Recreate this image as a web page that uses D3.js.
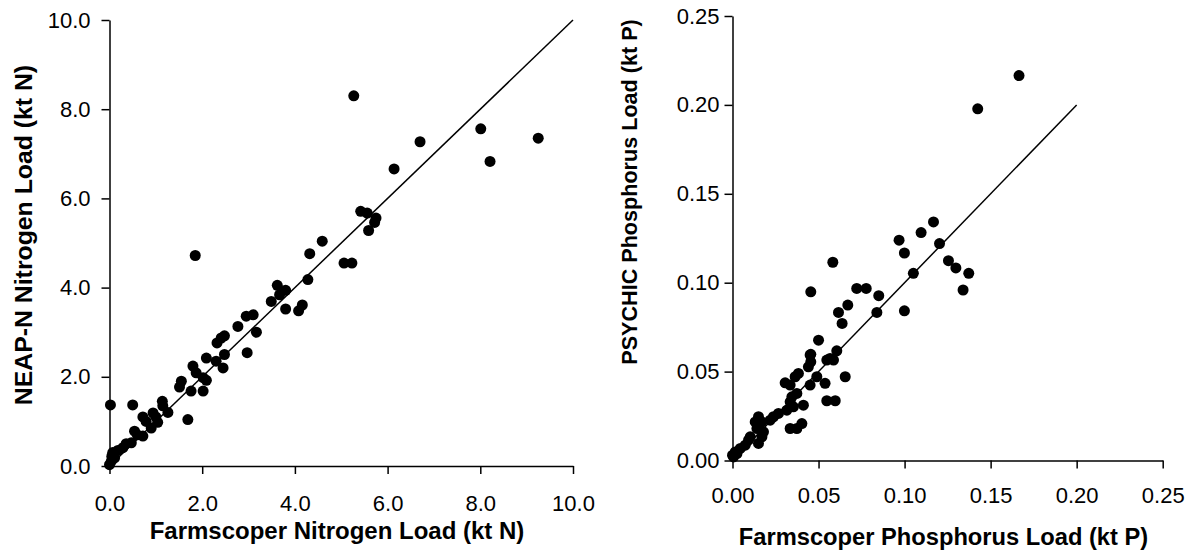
<!DOCTYPE html>
<html>
<head>
<meta charset="utf-8">
<script src="https://cdn.jsdelivr.net/npm/d3@7"></script>
<style>
  body { margin: 0; background: #fff; }
  text { font-family: "Liberation Sans", Arial, sans-serif; fill: #000; }
</style>
</head>
<body>
<div id="my_dataviz"></div>
<script>
// ---------------------------//
//       DATA                 //
// ---------------------------//

// nitrogen panel (kt N)
var nitroFarmscoper = [0.02, 0.50, 1.85, 5.27, 8.01, 9.25, 8.21, 6.70, 6.14, 5.42, 5.56, 5.75, 5.72, 5.59,
  4.59, 4.32, 4.28, 5.06, 5.23, 3.80, 3.67, 3.62, 3.80, 4.08, 4.16, 3.49, 2.95, 3.10, 2.77, 3.17,
  2.48, 2.41, 2.32, 2.97, 2.48, 2.09, 2.30, 2.45, 1.80, 1.87, 2.02, 2.09, 1.55, 1.51, 1.76, 2.02,
  1.14, 1.15, 1.26, 0.72, 0.94, 0.79, 1.04, 0.90, 1.69, 0.54, 0.72, 0.47, 0.36, 0.29, 0.18, 0.07,
  0.11, 0.04, 0.00, 0.60, 1.00, 0.05];
var nitroNeap = [1.37, 1.37, 4.72, 8.30, 7.56, 7.35, 6.83, 7.27, 6.66, 5.71, 5.67, 5.56, 5.46, 5.28,
  5.04, 4.76, 4.18, 4.55, 4.55, 3.94, 3.84, 4.05, 3.52, 3.48, 3.61, 3.69, 3.36, 3.39, 3.13, 3.00,
  2.92, 2.87, 2.76, 2.54, 2.50, 2.42, 2.35, 2.20, 2.24, 2.09, 1.98, 1.92, 1.90, 1.77, 1.68, 1.68,
  1.45, 1.35, 1.20, 1.10, 1.19, 1.00, 0.98, 0.85, 1.04, 0.78, 0.67, 0.52, 0.50, 0.41, 0.35, 0.30,
  0.18, 0.11, 0.03, 0.70, 1.10, 0.22];

// phosphorus panel (kt P)
var phosFarmscoper = [0.1665, 0.1425, 0.1168, 0.1096, 0.0968, 0.0999, 0.1203, 0.1255, 0.1298, 0.1373,
  0.1340, 0.1051, 0.0583, 0.0455, 0.0722, 0.0777, 0.0850, 0.0670, 0.0616, 0.0637, 0.0839, 0.0999,
  0.0500, 0.0455, 0.0606, 0.0567, 0.0451, 0.0455, 0.0587, 0.0548, 0.0655, 0.0538, 0.0548, 0.0597,
  0.0451, 0.0490, 0.0441, 0.0383, 0.0364, 0.0306, 0.0335, 0.0374, 0.0345, 0.0412, 0.0354, 0.0335,
  0.0316, 0.0267, 0.0238, 0.0219, 0.0403, 0.0335, 0.0374, 0.0151, 0.0132, 0.0171, 0.0142, 0.0180,
  0.0171, 0.0151, 0.0103, 0.0093, 0.0074, 0.0045, 0.0016, 0.0000, 0.0006, 0.0026];
var phosPsychic = [0.2165, 0.1978, 0.1342, 0.1282, 0.1239, 0.1167, 0.1220, 0.1124, 0.1083, 0.1053,
  0.0959, 0.1053, 0.1115, 0.0949, 0.0968, 0.0968, 0.0927, 0.0874, 0.0833, 0.0771, 0.0833, 0.0842,
  0.0677, 0.0597, 0.0617, 0.0574, 0.0593, 0.0555, 0.0565, 0.0565, 0.0471, 0.0434, 0.0336, 0.0336,
  0.0424, 0.0471, 0.0527, 0.0490, 0.0471, 0.0437, 0.0424, 0.0377, 0.0358, 0.0311, 0.0302, 0.0330,
  0.0283, 0.0265, 0.0246, 0.0227, 0.0208, 0.0180, 0.0180, 0.0246, 0.0217, 0.0217, 0.0180, 0.0161,
  0.0133, 0.0096, 0.0133, 0.0114, 0.0086, 0.0068, 0.0048, 0.0030, 0.0020, 0.0039];

// tick labels and 1:1 lines
var nitroTicks = [0, 2, 4, 6, 8, 10];
var phosTicks = [0, 0.05, 0.10, 0.15, 0.20, 0.25];
var nitroOneToOne = [0, 10];
var phosOneToOne = [0, 0.2];

// ---------------------------//
//       SVG                  //
// ---------------------------//
var svg = d3.select("#my_dataviz")
  .append("svg")
    .attr("width", 1193)
    .attr("height", 556);

function drawPanel(p) {
  var x = d3.scaleLinear().domain(p.domain).range([p.left, p.right]);
  var y = d3.scaleLinear().domain(p.domain).range([p.bottom, p.top]);

  // Add X axis
  var gx = svg.append("g")
    .attr("transform", "translate(0," + p.bottom + ")")
    .call(d3.axisBottom(x).tickValues(p.ticks).tickFormat(d3.format(p.fmt))
      .tickSizeInner(8).tickSizeOuter(0).tickPadding(p.xPad));
  // Add Y axis
  var gy = svg.append("g")
    .attr("transform", "translate(" + p.left + ",0)")
    .call(d3.axisLeft(y).tickValues(p.ticks).tickFormat(d3.format(p.fmt))
      .tickSizeInner(8).tickSizeOuter(0).tickPadding(p.yPad));

  [gx, gy].forEach(function(g) {
    g.selectAll("path, line").attr("stroke", "#000").attr("stroke-width", 1.5);
    g.selectAll("text")
      .style("font-family", "'Liberation Sans', Arial, sans-serif")
      .style("font-size", "22px")
      .attr("fill", "#000");
  });

  // 1:1 line
  svg.append("line")
    .attr("x1", x(p.line[0])).attr("y1", y(p.line[0]))
    .attr("x2", x(p.line[1])).attr("y2", y(p.line[1]))
    .attr("stroke", "#000")
    .attr("stroke-width", 1.5);

  // Add dots
  svg.append("g")
    .selectAll("circle")
    .data(p.xs)
    .enter()
    .append("circle")
      .attr("cx", function(d) { return x(d); })
      .attr("cy", function(d, i) { return y(p.ys[i]); })
      .attr("r", 5.5)
      .style("fill", "#000");

  // X axis label
  svg.append("text")
    .attr("x", p.xTitle[0])
    .attr("y", p.xTitle[1])
    .attr("text-anchor", "middle")
    .style("font-size", p.xTitle[2] + "px")
    .style("font-weight", "bold")
    .text(p.xLabel);

  // Y axis label
  svg.append("text")
    .attr("transform", "translate(" + p.yTitle[0] + "," + p.yTitle[1] + ") rotate(-90)")
    .attr("text-anchor", "middle")
    .style("font-size", p.yTitle[2] + "px")
    .style("font-weight", "bold")
    .text(p.yLabel);
}

drawPanel({
  xs: nitroFarmscoper, ys: nitroNeap, ticks: nitroTicks, line: nitroOneToOne,
  domain: [0, 10], fmt: ".1f",
  left: 109.5, right: 573, top: 20, bottom: 466,
  xPad: 21, yPad: 11,
  xLabel: "Farmscoper Nitrogen Load (kt N)", xTitle: [337, 539, 24],
  yLabel: "NEAP-N Nitrogen Load (kt N)", yTitle: [32, 235, 24.8]
});

drawPanel({
  xs: phosFarmscoper, ys: phosPsychic, ticks: phosTicks, line: phosOneToOne,
  domain: [0, 0.25], fmt: ".2f",
  left: 732.5, right: 1162.7, top: 16, bottom: 460.5,
  xPad: 19, yPad: 5,
  xLabel: "Farmscoper Phosphorus Load (kt P)", xTitle: [943.5, 545, 23.7],
  yLabel: "PSYCHIC Phosphorus Load (kt P)", yTitle: [637, 192, 21.6]
});
</script>
</body>
</html>
